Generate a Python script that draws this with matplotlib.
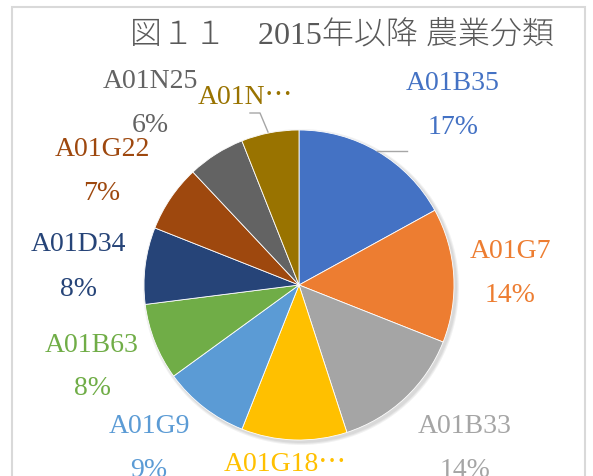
import matplotlib
matplotlib.use('Agg')
import matplotlib.pyplot as plt
from matplotlib.patches import Rectangle, Circle

plt.rcParams['font.family'] = ['Liberation Serif', 'Noto Sans CJK JP', 'DejaVu Sans']

# データ（割合）
labels = ['A01B35', 'A01G7', 'A01B33', 'A01G18⋯', 'A01G9',
          'A01B63', 'A01D34', 'A01G22', 'A01N25', 'A01N⋯']
values = [17, 14, 14, 11, 9, 8, 8, 7, 6, 6]
colors = ['#4472C4', '#ED7D31', '#A5A5A5', '#FFC000', '#5B9BD5',
          '#70AD47', '#264478', '#9E480E', '#636363', '#997300']
title = '図１１　2015年以降 農業分類'

# ラベル位置（ピクセル, 上から）
label_pos = [(453, 83), (510, 252), (465, 427), (285, 465), (149, 427),
             (92, 345), (78, 245), (102, 150), (150, 82), (245, 97)]
show_pct = [True, True, True, False, True, True, True, True, True, False]

W, H = 593, 477
fig = plt.figure(figsize=(W / 100, H / 100), dpi=100)
ax = fig.add_axes([0, 0, 1, 1])

cx, cy, r = 299, H - 286, 155

# 影
for i, a in enumerate([0.05, 0.05, 0.05]):
    ax.add_patch(Circle((cx + 2, cy - 2), r + 1 + i, color='black', alpha=a,
                        lw=0, zorder=0))

ax.pie(values, colors=colors, startangle=90, counterclock=False,
       center=(cx, cy), radius=r,
       wedgeprops=dict(edgecolor='white', linewidth=0.6))

ax.set_xlim(0, W)
ax.set_ylim(0, H)
ax.set_aspect('equal')
ax.axis('off')

total = sum(values)
for lab, v, c, (x, y), sp in zip(labels, values, colors, label_pos, show_pct):
    ax.text(x, H - y, lab, color=c, fontsize=20, ha='center', va='center')
    if sp:
        ax.text(x, H - y - 44, f'{v / total * 100:.0f}%', color=c,
                fontsize=20, ha='center', va='center')

# 引き出し線
ax.plot([377, 407], [H - 152, H - 152], color='#A6A6A6', lw=1)
ax.plot([250, 260, 268], [H - 114, H - 114, H - 133], color='#A6A6A6', lw=1)

ax.text(342, H - 37, title, color='#595959', fontsize=23, fontweight='light',
        ha='center', va='center')

# 枠
ax.add_patch(Rectangle((12, -20), 573, H - 8 + 20, fill=False,
                       edgecolor='#D9D9D9', lw=1.5, clip_on=False))

fig.savefig('out.png', dpi=100)
